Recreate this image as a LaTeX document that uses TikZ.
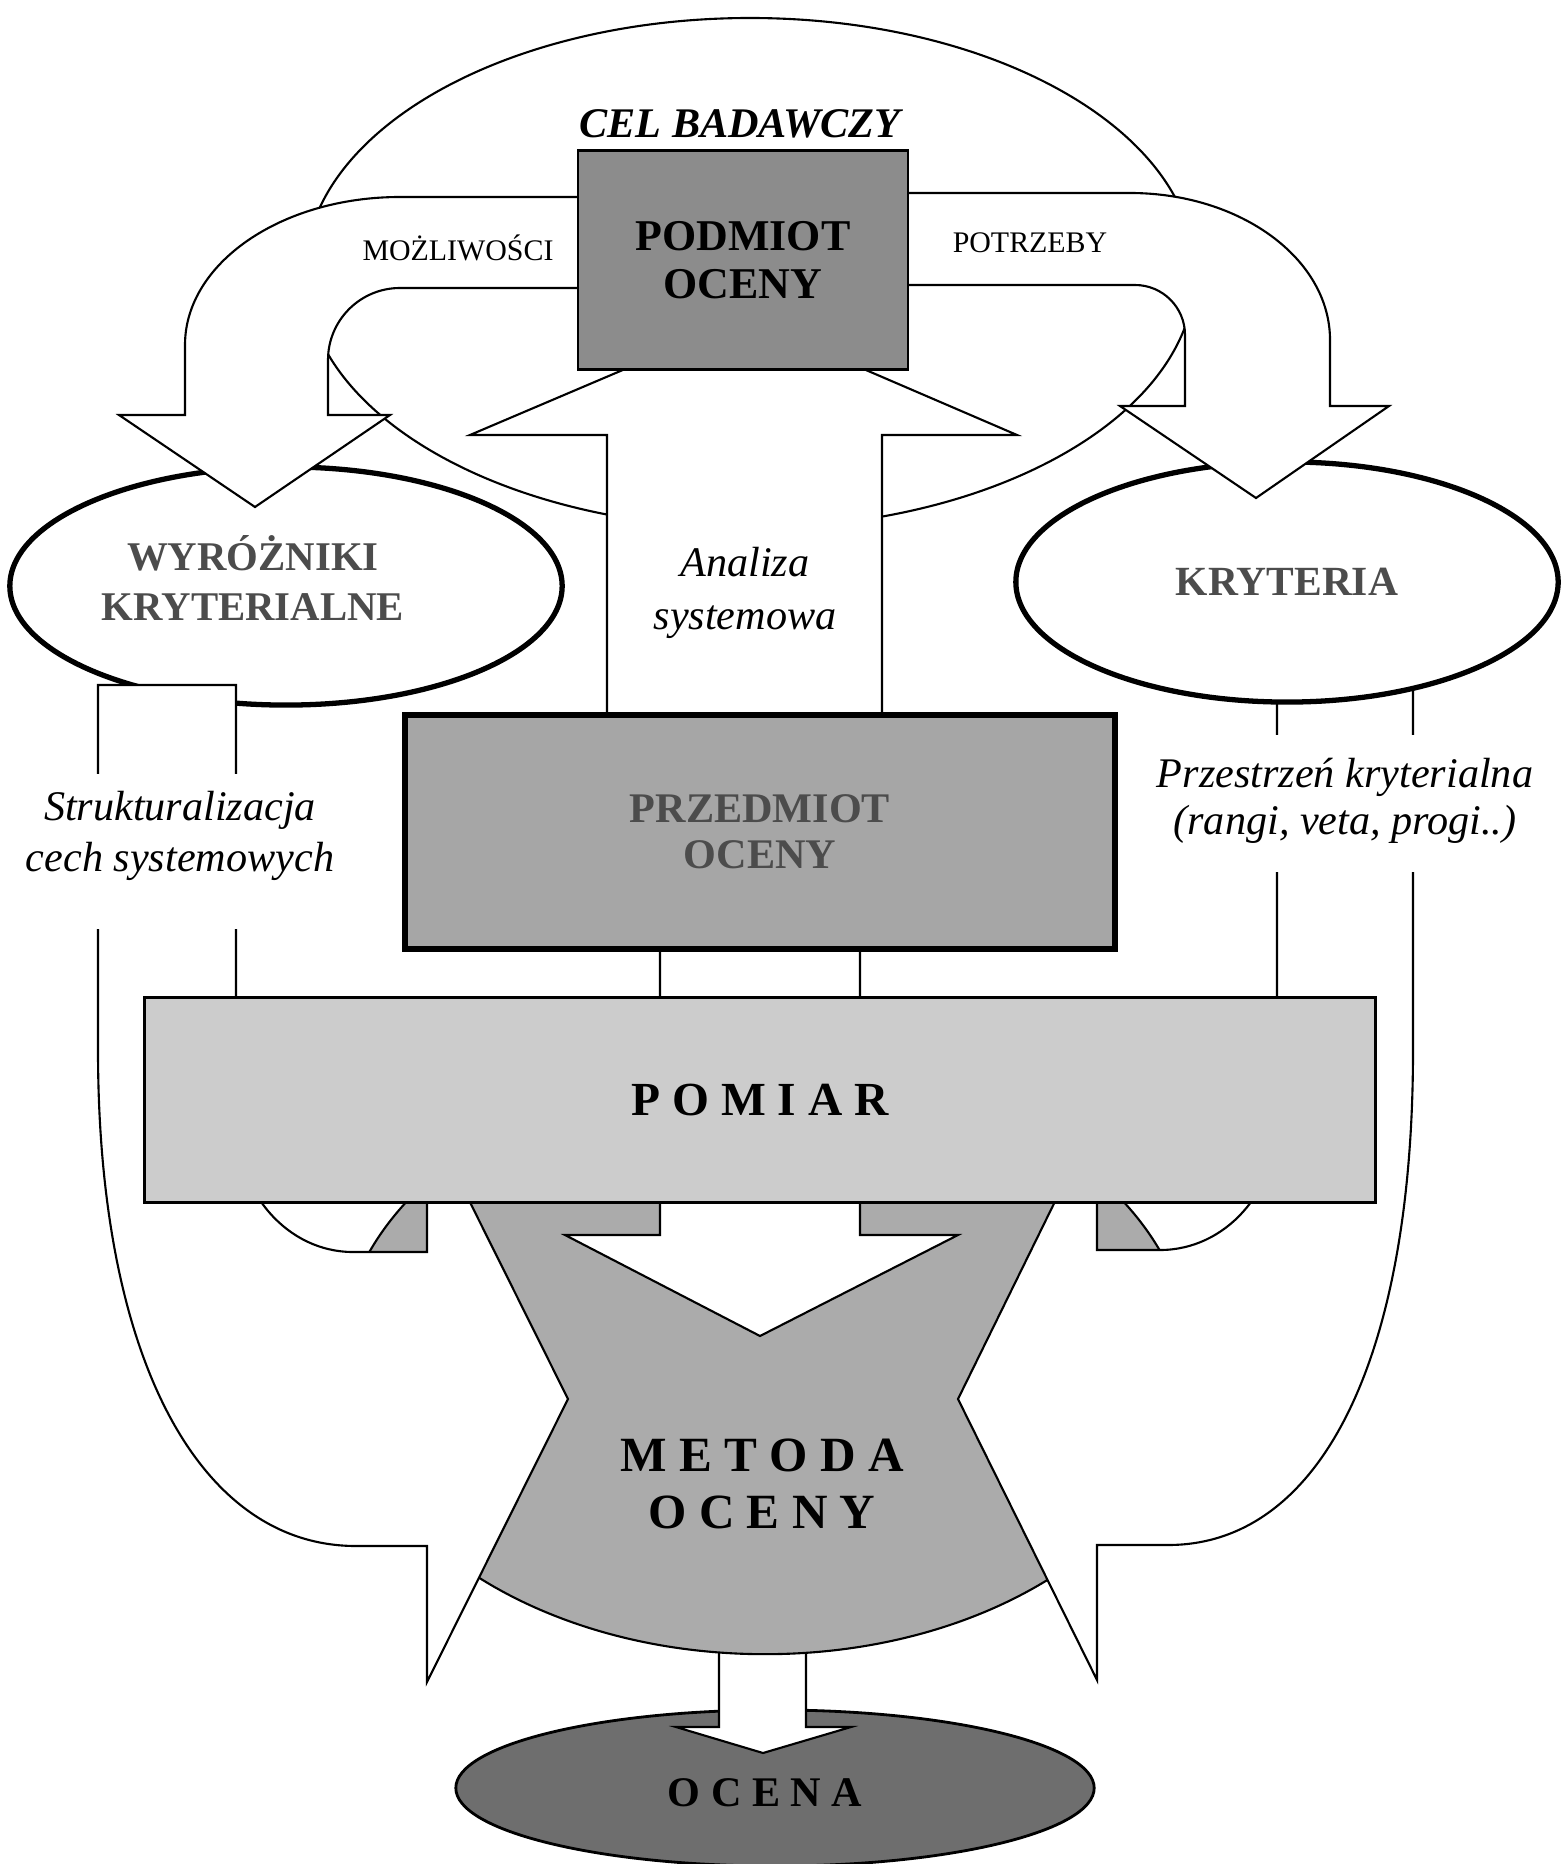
\documentclass[tikz,border=0pt]{standalone}
\usepackage{fontspec}
\setmainfont{Liberation Serif}
\usetikzlibrary{shapes.geometric}

\begin{document}
\begin{tikzpicture}[x=0.01cm, y=-0.01cm,
	blockarrow/.style={fill=white, draw=black, line width=0.6pt},
	box/.style={draw, line width=0.7pt, inner sep=0pt, align=center, font=\bfseries\fontsize{12.5}{13.7}\selectfont},
	oval/.style={ellipse, draw, line width=1.5pt, fill=white, inner sep=0pt, align=center},
	note/.style={align=center, font=\itshape\fontsize{12}{14.5}\selectfont},
	spaced/.style={align=center, font=\bfseries\fontsize{14}{16}\selectfont}]
	\useasboundingbox (0,0) rectangle (1564,1864);

	% cel badawczy loop
	\draw[line width=0.6pt] (750,273) ellipse [x radius=445, y radius=255];

	% ocena
	\node[oval, line width=0.8pt, fill=black!57, minimum width=6.38cm, minimum height=1.56cm] (ocena) at (775,1788) {};
	\node[spaced, font=\bfseries\fontsize{12}{14}\selectfont] (ocenatext) at (765,1793) {O C E N A};
	\filldraw[blockarrow] (719,1640) -- (719,1727) -- (676,1727) -- (763,1753) -- (851,1727) -- (806,1727) -- (806,1640);

	% metoda oceny
	\node[oval, line width=0.6pt, fill=black!33, minimum width=8.50cm, minimum height=5.88cm] (metoda) at (765,1360) {};

	% right loop
	\filldraw[blockarrow] (1413,640) -- (1413,1050) .. controls (1413,1360) and (1320,1545) .. (1168,1545) -- (1097,1545) -- (1097,1680) -- (958,1399) -- (1097,1116) -- (1097,1250) -- (1160,1250) .. controls (1225,1250) and (1277,1192) .. (1277,1120) -- (1277,640);

	\node[oval, minimum width=5.42cm, minimum height=2.40cm, text=black!70, font=\bfseries\fontsize{11.8}{14}\selectfont] (kryteria) at (1287,582) {KRYTERIA};
	\node[oval, minimum width=5.52cm, minimum height=2.38cm] (wyrozniki) at (286,586) {};
	\node[align=center, text=black!70, font=\bfseries\fontsize{11.6}{14}\selectfont] (wyroznikitext) at (253,578) {WYRÓŻNIKI\\KRYTERIALNE};

	% left loop
	\filldraw[blockarrow] (98,685) -- (98,1050) .. controls (98,1360) and (200,1546) .. (356,1546) -- (427,1546) -- (427,1682) -- (568,1399) -- (427,1116) -- (427,1252) -- (353,1252) .. controls (288,1252) and (236,1193) .. (236,1120) -- (236,685) -- cycle;

	% mozliwosci, potrzeby
	\filldraw[blockarrow] (590,197) -- (400,197) arc [start angle=90, end angle=180, x radius=215, y radius=-148] -- (185,415) -- (119,415) -- (255,507) -- (390,415) -- (328,415) -- (328,360) arc [start angle=180, end angle=90, x radius=72, y radius=-72] -- (590,288) -- cycle;
	\filldraw[blockarrow] (895,193) -- (1130,193) arc [start angle=90, end angle=0, x radius=200, y radius=-147] -- (1330,406) -- (1389,406) -- (1256,498) -- (1120,406) -- (1185,406) -- (1185,335) arc [start angle=0, end angle=90, x radius=50, y radius=-50] -- (895,285) -- cycle;

	% analiza systemowa
	\filldraw[blockarrow] (607,730) -- (607,435) -- (470,435) -- (745,318) -- (1017,435) -- (882,435) -- (882,730);

	\node[box, fill=black!45, minimum width=3.30cm, minimum height=2.19cm] (podmiot) at (743,260) {PODMIOT\\OCENY};

	\filldraw[blockarrow] (660,940) -- (660,1235) -- (565,1235) -- (760,1336) -- (958,1235) -- (860,1235) -- (860,940);

	\node[box, line width=1.8pt, fill=black!35, text=black!70, minimum width=7.10cm, minimum height=2.34cm, font=\bfseries\fontsize{12}{13}\selectfont] (przedmiot) at (760,832) {PRZEDMIOT\\OCENY};
	\node[box, fill=black!20, minimum width=12.30cm, minimum height=2.05cm, font=\bfseries\fontsize{13.5}{16}\selectfont] (pomiar) at (760,1100) {P O M I A R};

	\node[spaced] (metodatext) at (762,1484) {M E T O D A\\O C E N Y};

	% labels
	\node[font=\bfseries\itshape\fontsize{12}{14}\selectfont] (cel) at (740,124) {CEL BADAWCZY};
	\node[font=\fontsize{8.5}{10}\selectfont] (mozliwosci) at (458,248) {MOŻLIWOŚCI};
	\node[font=\fontsize{8.5}{10}\selectfont] (potrzeby) at (1030,243) {POTRZEBY};
	\node[note, font=\itshape\fontsize{12}{15}\selectfont] (analiza) at (745,593) {Analiza\\systemowa};

	\fill[white] (90,774) rectangle (245,929);
	\node[note] (strukt) at (180,836) {Strukturalizacja\\cech systemowych};
	\fill[white] (1270,735) rectangle (1420,872);
	\node[note, font=\itshape\fontsize{12}{13.5}\selectfont] (przestrzen) at (1345,801) {Przestrzeń kryterialna\\(rangi, veta, progi..)};
\end{tikzpicture}
\end{document}
